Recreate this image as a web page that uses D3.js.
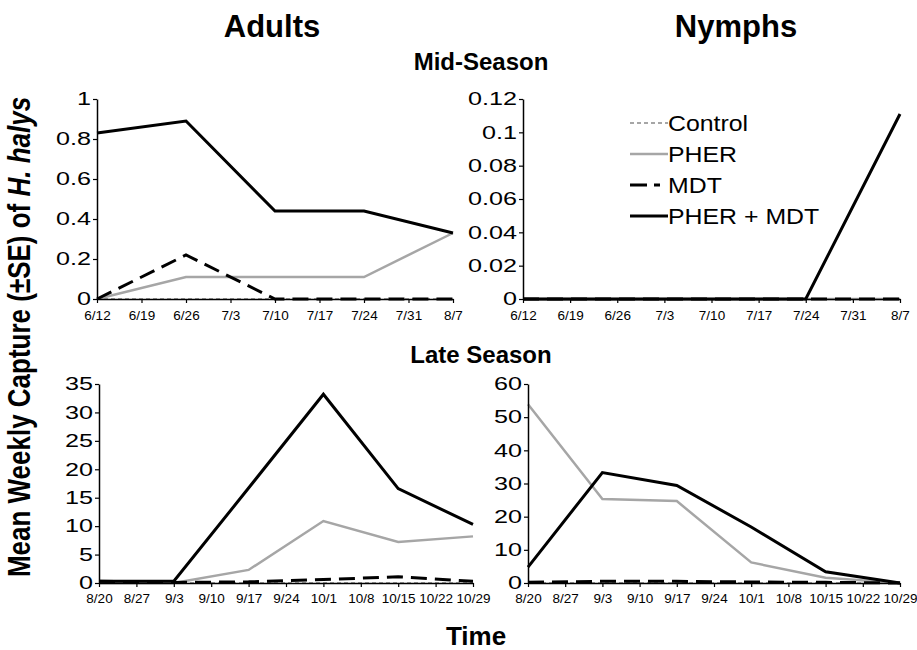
<!DOCTYPE html>
<html><head><meta charset="utf-8">
<script src="https://cdn.jsdelivr.net/npm/d3@7"></script>
<style>
body{margin:0;background:#fff;}
svg{display:block;font-family:Arial,"Liberation Sans",sans-serif;}
</style></head>
<body><svg id="c" width="917" height="650"></svg>
<script>
// ---- data ----
const seriesNames = ["Control", "PHER", "MDT", "PHER + MDT"];
const midTicks = ["6/12","6/19","6/26","7/3","7/10","7/17","7/24","7/31","8/7"];
const midDates = ["6/12","6/26","7/10","7/24","8/7"];
const lateTicks = ["8/20","8/27","9/3","9/10","9/17","9/24","10/1","10/8","10/15","10/22","10/29"];
const lateDates = ["8/20","9/3","9/17","10/1","10/15","10/29"];

const adultsMidControl = [0, 0, 0, 0, 0];
const adultsMidPHER    = [0, 0.11, 0.11, 0.11, 0.33];
const adultsMidMDT     = [0, 0.22, 0, 0, 0];
const adultsMidBoth    = [0.83, 0.89, 0.44, 0.44, 0.33];

const nymphsMidControl = [0, 0, 0, 0, 0];
const nymphsMidPHER    = [0, 0, 0, 0, 0];
const nymphsMidMDT     = [0, 0, 0, 0, 0];
const nymphsMidBoth    = [0, 0, 0, 0, 0.111];

const adultsLateControl = [0, 0, 0, 0, 0, 0];
const adultsLatePHER    = [0, 0, 2.3, 10.9, 7.2, 8.2];
const adultsLateMDT     = [0.3, 0.1, 0.2, 0.6, 1.1, 0.3];
const adultsLateBoth    = [0.3, 0.3, 16.7, 33.2, 16.6, 10.3];

const nymphsLateControl = [0, 0, 0, 0, 0, 0];
const nymphsLatePHER    = [53.9, 25.3, 24.7, 6.2, 1.6, 0];
const nymphsLateMDT     = [0.2, 0.5, 0.5, 0.3, 0.2, 0];
const nymphsLateBoth    = [4.8, 33.3, 29.4, 16.9, 3.4, 0];

const yTicksAdultsMid  = [0, 0.2, 0.4, 0.6, 0.8, 1];
const yTicksNymphsMid  = [0, 0.02, 0.04, 0.06, 0.08, 0.1, 0.12];
const yTicksAdultsLate = [0, 5, 10, 15, 20, 25, 30, 35];
const yTicksNymphsLate = [0, 10, 20, 30, 40, 50, 60];

// ---- styles ----
const styles = {
  "Control":    {stroke:"#a6a6a6", width:2, dash:"4,3"},
  "PHER":       {stroke:"#a6a6a6", width:2.5, dash:null},
  "MDT":        {stroke:"#000", width:3, dash:"16,8"},
  "PHER + MDT": {stroke:"#000", width:3, dash:null}
};

const svg = d3.select("#c");

const panels = [
  {ticks:midTicks, dates:midDates, series:[adultsMidControl,adultsMidPHER,adultsMidMDT,adultsMidBoth],
   yTicks:yTicksAdultsMid, x0:97, x1:453, y0:299, y1:99, padX:11},
  {ticks:midTicks, dates:midDates, series:[nymphsMidControl,nymphsMidPHER,nymphsMidMDT,nymphsMidBoth],
   yTicks:yTicksNymphsMid, x0:523, x1:900, y0:299, y1:99, padX:11},
  {ticks:lateTicks, dates:lateDates, series:[adultsLateControl,adultsLatePHER,adultsLateMDT,adultsLateBoth],
   yTicks:yTicksAdultsLate, x0:99, x1:473, y0:583, y1:384, padX:10},
  {ticks:lateTicks, dates:lateDates, series:[nymphsLateControl,nymphsLatePHER,nymphsLateMDT,nymphsLateBoth],
   yTicks:yTicksNymphsLate, x0:528, x1:900, y0:583, y1:384, padX:10}
];

const yStretch = 1.4;

panels.forEach(p => {
  const x = d3.scalePoint().domain(p.ticks).range([p.x0, p.x1]);
  const yMax = p.yTicks[p.yTicks.length-1];
  const y = d3.scaleLinear().domain([0, yMax]).range([p.y0, p.y1]);
  const g = svg.append("g");

  const line = d3.line().x(d => x(d.date)).y(d => y(d.v));
  p.series.forEach((vals, i) => {
    const st = styles[seriesNames[i]];
    const pts = p.dates.map((d, j) => ({date:d, v:vals[j]}));
    g.append("path").datum(pts)
      .attr("d", line).attr("fill","none")
      .attr("stroke", st.stroke).attr("stroke-width", st.width)
      .attr("stroke-dasharray", st.dash)
      .attr("stroke-linejoin","miter");
  });

  // x axis
  const xa = g.append("g").attr("transform", `translate(0,${p.y0})`)
    .call(d3.axisBottom(x).tickSizeInner(4).tickSizeOuter(0).tickPadding(p.padX - 4));
  xa.select(".domain").attr("stroke","#000").attr("stroke-width",1.5);
  xa.selectAll(".tick line").attr("stroke","#000").attr("stroke-width",1.2);
  xa.selectAll("text").attr("font-size",13.5).attr("fill","#000")
    .attr("font-family","Arial,'Liberation Sans',sans-serif");

  // y axis
  const ya = g.append("g").attr("transform", `translate(${p.x0},0)`)
    .call(d3.axisLeft(y).tickValues(p.yTicks).tickFormat(v => String(v))
      .tickSizeInner(4).tickSizeOuter(0).tickPadding(4));
  ya.select(".domain").attr("stroke","#000").attr("stroke-width",1.5);
  ya.selectAll(".tick line").attr("stroke","#000").attr("stroke-width",1.2);
  ya.selectAll("text").attr("font-size",18).attr("fill","#000")
    .attr("font-family","Arial,'Liberation Sans',sans-serif")
    .attr("x", -6 / yStretch)
    .attr("transform", `scale(${yStretch},1)`);
});

// legend
const leg = svg.append("g");
seriesNames.forEach((name, i) => {
  const cy = 123 + i * 31;
  const st = styles[name];
  leg.append("line").attr("x1",630).attr("x2",668).attr("y1",cy).attr("y2",cy)
    .attr("stroke",st.stroke).attr("stroke-width",st.width)
    .attr("stroke-dasharray", name === "MDT" ? "17,7,6" : st.dash);
  leg.append("text").attr("transform",`translate(668,${cy + 8}) scale(1.13,1)`)
    .attr("font-size",22).attr("fill","#000").text(name);
});

// titles
function title(txt, x, y, size){
  return svg.append("text").attr("x",x).attr("y",y).attr("text-anchor","middle")
    .attr("font-size",size).attr("font-weight","bold").attr("fill","#000").text(txt);
}
title("Adults", 272, 37, 31);
title("Nymphs", 736, 37, 31);
title("Mid-Season", 481, 70, 24);
title("Late Season", 481, 363, 24);
title("Time", 476, 645, 26);

// y label
const yl = svg.append("text")
  .attr("transform","translate(30,337) scale(1.2,1) rotate(-90)")
  .attr("text-anchor","middle").attr("font-size",26).attr("font-weight","bold").attr("fill","#000");
yl.append("tspan").text("Mean Weekly Capture (±SE) of ");
yl.append("tspan").attr("font-style","italic").text("H. halys");
</script></body></html>
